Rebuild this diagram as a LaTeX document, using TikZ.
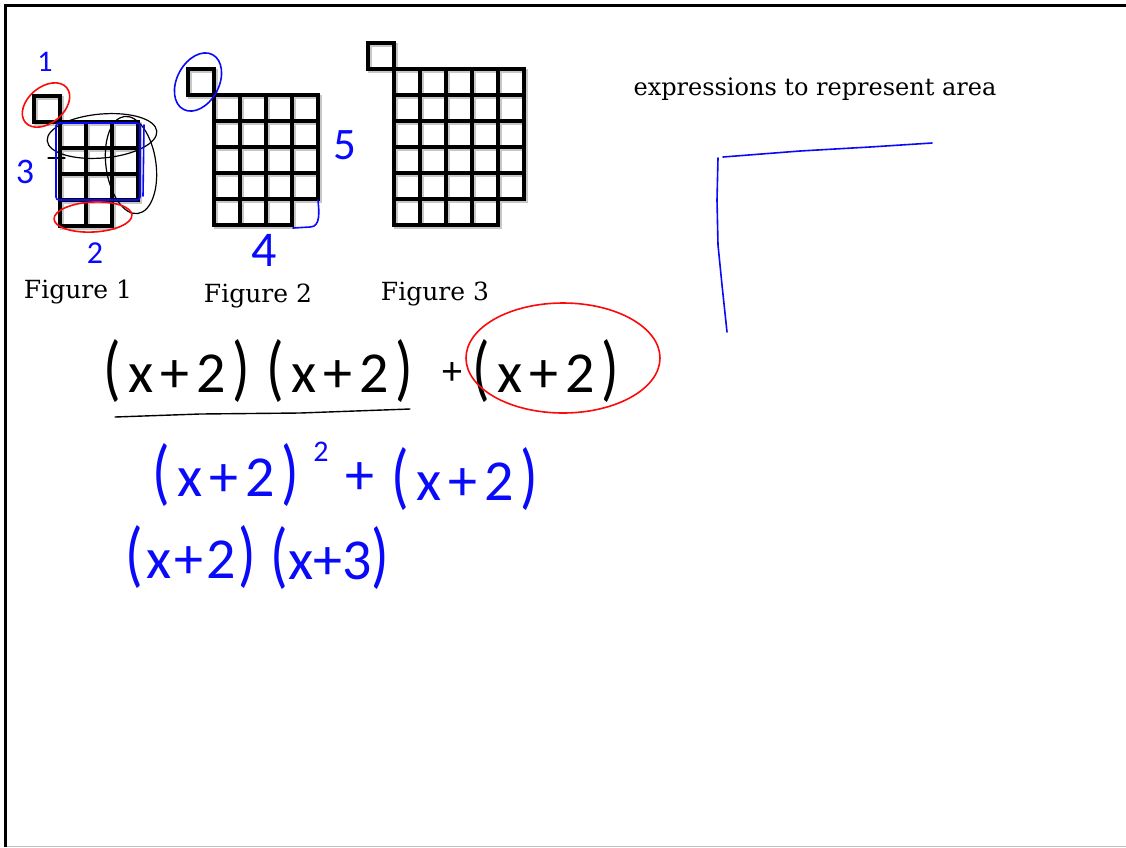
\documentclass[tikz,border=0pt]{standalone}
\usepackage{fontspec}
\setmainfont{DejaVu Serif}
\newfontfamily\hand{Carlito}
\newcommand{\hs}{\hspace{0.12em}}
\newcommand{\hn}{\hspace{0.05em}}
\newcommand{\lp}{\scalebox{1}[1.25]{(}}
\newcommand{\rp}{\scalebox{1}[1.25]{)}}
\newcommand{\figgrid}[5]{%
  \foreach \i in {0,...,#3} \draw[gl] ({#1+26*\i},#2) -- ({#1+26*\i},{#2+26*#4});
  \foreach \j in {0,...,#4} \draw[gl] (#1,{#2+26*\j}) -- ({#1+26*#3},{#2+26*\j});
  \foreach \i in {0,...,#5} \draw[gl] ({#1+26*\i},{#2+26*#4}) -- ({#1+26*\i},{#2+26*(#4+1)});
  \draw[gl] (#1,{#2+26*(#4+1)}) -- ({#1+26*#5},{#2+26*(#4+1)});
  \draw[gl] ({#1-26},{#2-26}) rectangle (#1,#2);
}
\definecolor{penblue}{RGB}{10,10,250}
\definecolor{penred}{RGB}{250,10,10}
\tikzset{
  gl/.style={draw=black, line width=3.6pt, line cap=rect},
  pen/.style={line width=1.6pt, line cap=round, line join=round},
  lbl/.style={inner sep=0pt, anchor=base, font=\fontsize{25}{28}\selectfont},
  hw/.style={inner sep=0pt, font=\hand\fontsize{58}{60}\selectfont},
  dig/.style={inner sep=0pt, text=penblue, font=\hand\fontsize{#1}{#1}\selectfont},
}
\begin{document}
\begin{tikzpicture}[x=1pt,y=-1pt]
\useasboundingbox (0,0) rectangle (1126,847);
\fill[white] (0,0) rectangle (1126,847);
% frame
\draw[line width=3pt] (5.5,847) -- (5.5,5.5) -- (1126,5.5);
\draw[black!25, line width=1pt] (7,846) -- (1126,846);

% grid shadows
\begin{scope}[shift={(1.8,1.8)}, gl/.style={draw=black!22, line width=4.4pt, line cap=rect}]
  \figgrid{60}{122}{3}{3}{2}
  \figgrid{214}{95}{4}{4}{3}
  \figgrid{394}{69}{5}{5}{4}
\end{scope}
% grids
\figgrid{60}{122}{3}{3}{2}
\figgrid{214}{95}{4}{4}{3}
\figgrid{394}{69}{5}{5}{4}

% figure labels
\node[lbl] (f1) at (78,298) {Figure 1};
\node[lbl] (f2) at (258,302) {Figure 2};
\node[lbl] (f3) at (435,300) {Figure 3};
\node[inner sep=0pt, anchor=base, font=\fontsize{24}{27}\selectfont] (title) at (815,95) {expressions to represent area};

% figure 1 annotations
\draw[pen, penred, shift={(46,105)}, rotate=40] (0,0) ellipse (27 and 18);
\draw[pen, black, line width=1.2pt, shift={(102,136)}, rotate=5] (0,0) ellipse (55 and 22);
\draw[pen, black, line width=1.2pt] (48,158) -- (65,158);
\draw[pen, black, line width=1.2pt, shift={(131,165)}, rotate=8] (0,0) ellipse (25 and 49);
\draw[pen, penblue, rounded corners=3pt] (56,123) rectangle (140,200);
\draw[pen, penblue] (144,125) -- (143,196);
\draw[pen, penred, shift={(93,217)}, rotate=3] (0,0) ellipse (39 and 15);
\node[dig=30] (n1) at (45,62) {1};
\node[dig=36] (n3) at (25,172) {3};
\node[dig=32] (n2) at (95,253) {2};

% figure 2 annotations
\draw[pen, penblue, shift={(198,82)}, rotate=62] (0,0) ellipse (31 and 21);
\draw[pen, penblue] (318,200) to[out=-85,in=0] (310,227) -- (293,228);
\node[dig=45] (n5) at (345,145) {5};
\node[dig=50] (n4) at (264,250) {4};

% L shape
\draw[pen, penblue] (718,158) -- (717,200) -- (718,245) -- (722,285) -- (727,332);
\draw[pen, penblue] (723,157) -- (800,151) -- (870,147) -- (932,143);

% row 1 (black)
\node[hw] (r1a) at (177,371) {\lp\hs x\hs +\hs 2\hs \rp};
\node[hw] (r1b) at (340,371) {\lp\hs x\hs +\hs 2\hs \rp};
\node[hw, font=\hand\fontsize{40}{40}\selectfont] (r1p) at (452,373) {+};
\node[hw] (r1c) at (546,371) {\lp\hs x\hs +\hs 2\hs \rp};
\draw[pen, line width=1.4pt] (115,417) -- (200,414) -- (300,413) -- (410,409);
\draw[pen, penred] (563,358) ellipse (97 and 55);

% row 2 (blue)
\node[hw, text=penblue] (r2a) at (226,475) {\lp\hs x\hs +\hs 2\hs \rp};
\node[dig=30] (r2s) at (321,452) {2};
\node[hw, text=penblue] (r2p) at (360,479) {+};
\node[hw, text=penblue] (r2b) at (465,479) {\lp\hs x\hs +\hs 2\hs \rp};

% row 3 (blue)
\node[hw, text=penblue] (r3a) at (191,557) {\lp\hn x\hn +\hn 2\hn \rp};
\node[hw, text=penblue] (r3b) at (330,558) {\lp x+3\rp};
\end{tikzpicture}
\end{document}
